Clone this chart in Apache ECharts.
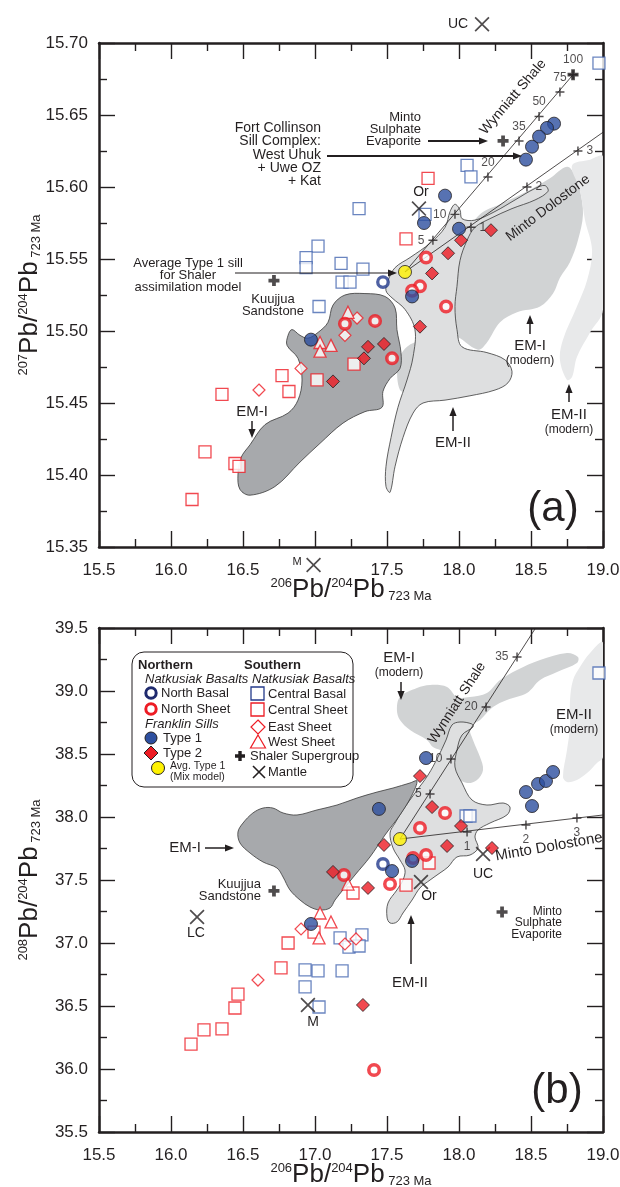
<!DOCTYPE html>
<html>
<head>
<meta charset="utf-8">
<script src="https://cdn.jsdelivr.net/npm/echarts@6/dist/echarts.min.js"></script>
<style>
html,body{margin:0;padding:0;background:#fff}
#chart{width:620px;height:1187px}
</style>
</head>
<body>
<div id="chart"></div>
<script>
// ---- panel (a): 207Pb/204Pb vs 206Pb/204Pb ----
var a_northBasal = [[17.472, 15.534]];
var a_northSheet = [[17.771, 15.551], [17.729, 15.531], [17.674, 15.528], [17.910, 15.517], [17.417, 15.507], [17.208, 15.505], [17.535, 15.481]];
var a_type1 = [[18.660, 15.644], [18.611, 15.641], [18.556, 15.635], [18.507, 15.628], [18.465, 15.619], [17.903, 15.594], [17.757, 15.575], [18.000, 15.571], [17.674, 15.524], [16.972, 15.494]];
var a_type2 = [[18.222, 15.570], [18.014, 15.563], [17.924, 15.554], [17.813, 15.540], [17.729, 15.503], [17.479, 15.491], [17.368, 15.489], [17.340, 15.481], [17.125, 15.465]];
var a_avgType1 = [[17.625, 15.541]];
var a_centralBasal = [[18.972, 15.686], [18.056, 15.615], [18.083, 15.607], [17.764, 15.581], [17.306, 15.585], [17.021, 15.559], [16.938, 15.551], [16.938, 15.544], [17.181, 15.547], [17.333, 15.543], [17.188, 15.534], [17.243, 15.534], [17.028, 15.517]];
var a_centralSheet = [[17.785, 15.606], [17.632, 15.564], [17.271, 15.477], [17.014, 15.466], [16.771, 15.469], [16.819, 15.458], [16.354, 15.456], [16.236, 15.416], [16.444, 15.408], [16.472, 15.406], [16.146, 15.383]];
var a_eastSheet = [[17.292, 15.509], [17.208, 15.497], [16.903, 15.474], [16.611, 15.459]];
var a_westSheet = [[17.229, 15.513], [17.035, 15.492], [17.111, 15.490], [17.035, 15.486]];
var a_shaler = [[16.715, 15.535], [18.306, 15.632], [18.792, 15.678]];
var a_mantle = [[18.160, 15.713], [16.990, 15.3375], [17.722, 15.585]];

var a_wynLine = [[17.625, 15.541], [18.792, 15.678]];
var a_mintoLine = [[17.625, 15.541], [19.0, 15.638]];
var a_wynTicks = [[17.819, 15.563], [17.972, 15.581], [18.201, 15.607], [18.417, 15.632], [18.556, 15.649], [18.701, 15.666], [18.792, 15.678]];
var a_wynTickText = ['5', '10', '20', '35', '50', '75', '100'];
var a_mintoTicks = [[18.083, 15.572], [18.472, 15.600], [18.826, 15.625]];
var a_mintoTickText = ['1', '2', '3'];

// fields (a)
var a_fieldEM1 = [[16.840,15.501],[16.896,15.497],[16.951,15.495],[17.021,15.499],[17.090,15.506],[17.125,15.518],[17.208,15.525],[17.347,15.526],[17.486,15.524],[17.556,15.516],[17.569,15.501],[17.597,15.485],[17.590,15.474],[17.521,15.467],[17.472,15.458],[17.465,15.447],[17.347,15.444],[17.194,15.436],[17.035,15.422],[16.896,15.409],[16.722,15.392],[16.549,15.386],[16.479,15.390],[16.465,15.400],[16.486,15.412],[16.549,15.421],[16.653,15.435],[16.813,15.443],[16.882,15.452],[16.910,15.466],[16.882,15.481],[16.806,15.490],[16.813,15.497]];
var a_fieldEM2 = [[17.507,15.535],[17.556,15.544],[17.660,15.551],[17.799,15.561],[17.903,15.572],[17.938,15.583],[17.972,15.588],[18.007,15.584],[18.021,15.578],[18.111,15.577],[18.250,15.583],[18.389,15.591],[18.528,15.599],[18.597,15.601],[18.618,15.597],[18.528,15.591],[18.368,15.585],[18.215,15.578],[18.111,15.572],[18.056,15.563],[18.007,15.549],[17.986,15.531],[17.972,15.517],[17.986,15.501],[18.021,15.489],[18.194,15.485],[18.319,15.480],[18.368,15.472],[18.340,15.464],[18.250,15.459],[18.076,15.455],[17.903,15.452],[17.750,15.450],[17.681,15.443],[17.611,15.426],[17.556,15.406],[17.521,15.388],[17.493,15.392],[17.493,15.406],[17.528,15.426],[17.576,15.447],[17.639,15.466],[17.681,15.482],[17.694,15.501],[17.625,15.515],[17.535,15.523],[17.493,15.528]];
var a_fieldEM1mod = [[17.590,15.459],[17.576,15.478],[17.639,15.489],[17.750,15.494],[17.958,15.497],[18.132,15.487],[18.194,15.492],[18.285,15.506],[18.403,15.513],[18.563,15.517],[18.653,15.526],[18.701,15.537],[18.771,15.548],[18.826,15.563],[18.861,15.581],[18.840,15.598],[18.806,15.608],[18.750,15.614],[18.632,15.606],[18.493,15.598],[18.285,15.588],[18.146,15.581],[18.021,15.563],[17.903,15.535],[17.799,15.508],[17.694,15.480],[17.660,15.459]];
var a_fieldEM2mod = [[18.785,15.615],[18.910,15.619],[19.0,15.621],[19.0,15.515],[18.910,15.499],[18.819,15.482],[18.785,15.468],[18.750,15.466],[18.701,15.480],[18.722,15.494],[18.819,15.517],[18.889,15.535],[18.924,15.556],[18.875,15.577],[18.840,15.598]];

// ---- panel (b): 208Pb/204Pb vs 206Pb/204Pb ----
var b_northBasal = [[17.472, 37.627]];
var b_northSheet = [[17.903, 38.032], [17.729, 37.913], [17.681, 37.675], [17.771, 37.698], [17.521, 37.468], [17.201, 37.540], [17.410, 35.992]];
var b_type1 = [[17.771, 38.468], [17.444, 38.064], [17.674, 37.651], [17.535, 37.571], [18.465, 38.198], [18.507, 38.087], [18.549, 38.262], [18.604, 38.286], [18.653, 38.357], [16.972, 37.151]];
var b_type2 = [[17.729, 38.325], [17.813, 38.079], [18.014, 37.929], [17.917, 37.770], [17.479, 37.778], [17.125, 37.564], [17.368, 37.437], [18.229, 37.754], [17.333, 36.508]];
var b_avgType1 = [[17.590, 37.825]];
var b_centralBasal = [[18.972, 39.143], [18.049, 38.008], [18.076, 38.008], [17.174, 37.040], [17.326, 37.064], [17.236, 36.968], [17.306, 36.976], [16.931, 36.786], [17.021, 36.778], [17.188, 36.778], [16.931, 36.651], [17.028, 36.492]];
var b_centralSheet = [[17.792, 37.635], [17.632, 37.460], [17.264, 37.397], [16.993, 37.087], [16.813, 37.000], [16.764, 36.802], [16.465, 36.595], [16.444, 36.484], [16.354, 36.318], [16.229, 36.310], [16.139, 36.198]];
var b_eastSheet = [[16.903, 37.111], [17.208, 36.992], [17.285, 37.032], [16.604, 36.706]];
var b_westSheet = [[17.229, 37.468], [17.035, 37.238], [17.111, 37.167], [17.028, 37.040]];
var b_shaler = [[16.715, 37.413], [18.299, 37.246]];
var b_mantle = [[16.181, 37.206], [16.951, 36.508], [17.736, 37.484], [18.167, 37.706]];

var b_wynLine = [[17.590, 37.825], [18.532, 39.5]];
var b_mintoLine = [[17.590, 37.825], [19.0, 38.016]];
var b_wynTicks = [[17.799, 38.183], [17.944, 38.460], [18.188, 38.873], [18.403, 39.270]];
var b_wynTickText = ['5', '10', '20', '35'];
var b_mintoTicks = [[18.056, 37.881], [18.465, 37.937], [18.819, 37.992]];
var b_mintoTickText = ['1', '2', '3'];

var b_fieldEM1 = [[16.465,37.881],[16.500,37.952],[16.569,38.032],[16.639,38.071],[16.708,38.071],[16.778,38.032],[16.875,38.016],[17.014,38.056],[17.153,38.095],[17.292,38.151],[17.431,38.198],[17.542,38.230],[17.660,38.270],[17.708,38.286],[17.674,38.175],[17.590,38.016],[17.486,37.857],[17.382,37.683],[17.278,37.540],[17.194,37.421],[17.139,37.341],[17.104,37.278],[17.035,37.262],[16.965,37.286],[16.896,37.341],[16.826,37.421],[16.778,37.524],[16.736,37.595],[16.639,37.643],[16.549,37.714],[16.479,37.794]];
var b_fieldEM2 = [[17.521,37.873],[17.556,37.952],[17.611,38.056],[17.694,38.190],[17.785,38.333],[17.854,38.476],[17.910,38.611],[17.951,38.730],[18.007,38.754],[18.090,38.738],[18.097,38.714],[18.021,38.651],[17.986,38.532],[17.972,38.397],[18.021,38.270],[18.090,38.135],[18.194,38.095],[18.306,38.111],[18.354,38.079],[18.333,38.016],[18.215,37.952],[18.132,37.897],[18.111,37.841],[18.132,37.754],[18.076,37.698],[17.986,37.683],[17.924,37.603],[17.868,37.556],[17.799,37.500],[17.729,37.437],[17.674,37.341],[17.611,37.238],[17.569,37.167],[17.521,37.159],[17.500,37.206],[17.507,37.317],[17.569,37.421],[17.611,37.500],[17.625,37.579],[17.590,37.659],[17.542,37.754]];
var b_fieldEM1mod = [[17.569,38.849],[17.590,38.952],[17.708,39.024],[17.799,39.048],[17.917,39.032],[17.986,38.952],[18.076,38.952],[18.194,38.984],[18.285,39.087],[18.403,39.167],[18.563,39.246],[18.750,39.302],[18.826,39.270],[18.819,39.222],[18.681,39.151],[18.563,39.087],[18.472,38.984],[18.333,38.929],[18.236,38.873],[18.146,38.770],[18.076,38.714],[18.097,38.611],[18.146,38.476],[18.167,38.373],[18.125,38.294],[18.056,38.270],[17.986,38.317],[17.958,38.429],[17.917,38.508],[17.819,38.556],[17.778,38.611],[17.660,38.690],[17.590,38.770]];
var b_fieldEM2mod = [[19.0,39.381],[18.910,39.302],[18.840,39.190],[18.792,39.087],[18.771,38.929],[18.771,38.714],[18.750,38.532],[18.722,38.317],[18.750,38.278],[18.819,38.294],[18.889,38.349],[18.958,38.429],[19.0,38.476]];

// ---- styling ----
var INK = '#231f20';
var FONT = '"Liberation Sans", Arial, sans-serif';
var RED = '#ed1c24';
var NAVY = '#233a8c';
var BLUE1 = '#2d4f9f';
var SQBLUE = '#4566b0';
var PLUS = 'path://M3.3,0H6.7V3.3H10V6.7H6.7V10H3.3V6.7H0V3.3H3.3Z';
var THINPLUS = 'path://M4.2,0H5.8V4.2H10V5.8H5.8V10H4.2V5.8H0V4.2H4.2Z';
var XMARK = 'path://M0.8,0L5,4.2L9.2,0L10,0.8L5.8,5L10,9.2L9.2,10L5,5.8L0.8,10L0,9.2L4.2,5L0,0.8Z';

var a_wynLabelPos = ['left', 'left', 'top', 'top', 'top', 'top', 'top'];
var a_mintoLabelPos = ['right', 'right', 'right'];
var b_wynLabelPos = ['left', 'left', 'left', 'left'];
var b_mintoLabelPos = ['bottom', 'bottom', 'bottom'];

var axisName = function(top) {
	return '{s|' + top + '}{p|Pb/}{s|204}{p|Pb}{t| 723 Ma}';
};
var nameStyle = {
	color: INK, fontFamily: FONT,
	rich: {
		s: {fontSize: 13, verticalAlign: 'top', color: INK, fontFamily: FONT},
		p: {fontSize: 26, color: INK, fontFamily: FONT},
		t: {fontSize: 13, verticalAlign: 'bottom', color: INK, fontFamily: FONT}
	}
};

function makeX(gi, top, hide) {
	return {
		type: 'value', gridIndex: gi, position: top ? 'top' : 'bottom',
		min: 15.5, max: 19, interval: 0.5,
		axisLine: {show: true, onZero: false, lineStyle: {color: INK, width: 2.5}},
		axisTick: {show: true, inside: true, length: 16, lineStyle: {color: INK, width: 1.4}},
		minorTick: {show: true, splitNumber: 2, length: 8, lineStyle: {color: INK, width: 1.4}},
		splitLine: {show: false},
		axisLabel: {
			show: !top, margin: 15, fontSize: 17, color: INK, fontFamily: FONT,
			formatter: function(v) {
				if (hide && Math.abs(v - hide) < 1e-6) return '';
				return v.toFixed(1);
			}
		},
		name: top ? '' : axisName('206'), nameLocation: 'middle', nameGap: 30,
		nameMoveOverlap: false,
		nameTextStyle: nameStyle
	};
}
function makeY(gi, right, min, max, step, dec, top) {
	return {
		type: 'value', gridIndex: gi, position: right ? 'right' : 'left',
		min: min, max: max, interval: step,
		axisLine: {show: true, onZero: false, lineStyle: {color: INK, width: 2.5}},
		axisTick: {show: true, inside: true, length: 16, lineStyle: {color: INK, width: 1.4}},
		minorTick: {show: true, splitNumber: 2, length: 8, lineStyle: {color: INK, width: 1.4}},
		splitLine: {show: false},
		axisLabel: {
			show: !right, margin: 11, fontSize: 17, color: INK, fontFamily: FONT,
			formatter: function(v) { return v.toFixed(dec); }
		},
		name: right ? '' : axisName(top), nameLocation: 'middle', nameGap: 56, nameRotate: 90,
		nameMoveOverlap: false,
		nameTextStyle: nameStyle
	};
}

function field(data, gi, fill, stroke) {
	return {
		type: 'custom', xAxisIndex: gi * 2, yAxisIndex: gi * 2, silent: true, z: 1, clip: true,
		data: data, encode: {x: 0, y: 1},
		renderItem: function(params, api) {
			if (params.dataIndex !== 0) return null;
			var pts = data.map(function(p) { return api.coord(p); });
			return {
				type: 'polygon',
				shape: {points: pts, smooth: 0.35},
				style: {fill: fill, stroke: stroke || null, lineWidth: 0.8}
			};
		}
	};
}
function scat(data, gi, symbol, size, style, clip) {
	return {
		type: 'scatter', xAxisIndex: gi * 2, yAxisIndex: gi * 2, data: data,
		symbol: symbol, symbolSize: size, itemStyle: style, z: 3,
		clip: clip !== false, silent: true, animation: false
	};
}
function mixLine(data, gi) {
	return {
		type: 'line', xAxisIndex: gi * 2, yAxisIndex: gi * 2, data: data,
		symbol: 'none', lineStyle: {color: INK, width: 0.8}, z: 2, silent: true, animation: false
	};
}
function mixTicks(data, text, pos, gi) {
	var items = data.map(function(p, i) {
		return {value: p, label: {show: true, formatter: text[i], position: pos[i], distance: 4}};
	});
	return {
		type: 'scatter', xAxisIndex: gi * 2, yAxisIndex: gi * 2, data: items,
		symbol: THINPLUS, symbolSize: 9, itemStyle: {color: INK}, z: 2, silent: true,
		label: {fontSize: 12, color: INK, fontFamily: FONT}, animation: false
	};
}

function seriesFor(gi, d) {
	return [
		field(d.em1mod, gi, '#d1d3d4'),
		field(d.em2mod, gi, '#e8e9ea'),
		field(d.em2, gi, '#dedfe0', '#3a3a3a'),
		field(d.em1, gi, '#a7a9ac', '#3a3a3a'),
		mixLine(d.wynLine, gi),
		mixLine(d.mintoLine, gi),
		mixTicks(d.wynTicks, d.wynText, d.wynPos, gi),
		mixTicks(d.mintoTicks, d.mintoText, d.mintoPos, gi),
		scat(d.centralBasal, gi, 'rect', 12, {color: '#fff', borderColor: SQBLUE, borderWidth: 1.3}),
		scat(d.centralSheet, gi, 'rect', 12, {color: '#fff', borderColor: RED, borderWidth: 1.3}),
		scat(d.eastSheet, gi, 'diamond', 12, {color: '#fff', borderColor: RED, borderWidth: 1.2}),
		scat(d.westSheet, gi, 'triangle', 12, {color: '#fff', borderColor: RED, borderWidth: 1.3}),
		scat(d.mantle, gi, XMARK, 15, {color: INK}, false),
		scat(d.shaler, gi, PLUS, 11, {color: INK}),
		scat(d.northBasal, gi, 'circle', 10.5, {color: '#fff', borderColor: NAVY, borderWidth: 3.3}),
		scat(d.northSheet, gi, 'circle', 10.5, {color: '#fff', borderColor: RED, borderWidth: 3.5}),
		scat(d.type2, gi, 'diamond', 13, {color: RED, borderColor: INK, borderWidth: 1}),
		scat(d.type1, gi, 'circle', 13, {color: BLUE1, borderColor: INK, borderWidth: 1}),
		scat(d.avgType1, gi, 'circle', 13, {color: '#fff200', borderColor: INK, borderWidth: 1})
	];
}

// ---- annotations ----
var graphics = [];
function T(x, y, s, size, o) {
	o = o || {};
	graphics.push({
		type: 'text', x: x, y: y, z: 50, rotation: (o.rot || 0) * Math.PI / 180,
		style: {
			text: s, fontSize: size, fontFamily: FONT, fill: INK,
			align: o.align || 'center', verticalAlign: 'middle',
			fontStyle: o.italic ? 'italic' : 'normal', fontWeight: o.bold ? 'bold' : 'normal'
		}
	});
}
function A(x1, y1, x2, y2, w) {
	var a = Math.atan2(y2 - y1, x2 - x1), L = 9, W = 3.6;
	var bx = x2 - L * Math.cos(a), by = y2 - L * Math.sin(a);
	graphics.push({type: 'line', z: 50, shape: {x1: x1, y1: y1, x2: bx, y2: by}, style: {stroke: INK, lineWidth: w || 1.5}});
	graphics.push({type: 'polygon', z: 50, shape: {points: [[x2, y2], [bx + W * Math.sin(a), by - W * Math.cos(a)], [bx - W * Math.sin(a), by + W * Math.cos(a)]]}, style: {fill: INK}});
}

// (a)
T(458, 24, 'UC', 14);
T(297, 562, 'M', 11);
T(421, 192, 'Or', 14);
[['Fort Collinson', 128], ['Sill Complex:', 141], ['West Uhuk', 155], ['+ Uwe OZ', 168], ['+ Kat', 181]].forEach(function(l) {
	T(321, l[1], l[0], 14, {align: 'right'});
});
A(327, 156, 522, 156, 1.8);
[['Minto', 117], ['Sulphate', 129], ['Evaporite', 141]].forEach(function(l) { T(421, l[1], l[0], 13, {align: 'right'}); });
A(428, 141, 488, 141, 1.8);
T(513, 97, 'Wynniatt Shale', 14, {rot: 49.5});
T(548, 208, 'Minto Dolostone', 14, {rot: 37});
T(188, 263, 'Average Type 1 sill', 13);
T(188, 275, 'for Shaler', 13);
T(188, 287, 'assimilation model', 13);
A(235, 273, 397, 273, 1.2);
T(273, 299, 'Kuujjua', 13);
T(273, 311, 'Sandstone', 13);
T(252, 412, 'EM-I', 15);
A(252, 421, 252, 438, 1.5);
T(453, 443, 'EM-II', 15);
A(453, 431, 453, 407, 1.5);
T(530, 346, 'EM-I', 15);
T(530, 361, '(modern)', 12);
A(530, 334, 530, 315, 1.5);
T(569, 415, 'EM-II', 15);
T(569, 430, '(modern)', 12);
A(569, 402, 569, 384, 1.5);
T(553, 509, '(a)', 42);

// (b)
T(399, 658, 'EM-I', 15);
T(399, 673, '(modern)', 12);
A(401, 682, 401, 700, 1.5);
T(457, 703, 'Wynniatt Shale', 14, {rot: 57});
T(574, 715, 'EM-II', 15);
T(574, 730, '(modern)', 12);
T(549, 847, 'Minto Dolostone', 15, {rot: 10});
T(483, 874, 'UC', 14);
T(429, 896, 'Or', 14);
T(313, 1022, 'M', 14);
T(196, 933, 'LC', 14);
T(261, 884, 'Kuujjua', 13, {align: 'right'});
T(261, 896, 'Sandstone', 13, {align: 'right'});
T(185, 848, 'EM-I', 15);
A(205, 848, 234, 848, 1.5);
T(410, 983, 'EM-II', 15);
A(411, 964, 411, 915, 1.5);
T(562, 912, 'Minto', 12, {align: 'right'});
T(562, 923, 'Sulphate', 12, {align: 'right'});
T(562, 935, 'Evaporite', 12, {align: 'right'});
T(557, 1091, '(b)', 42);

// legend box (b)
graphics.push({type: 'rect', z: 40, shape: {x: 132, y: 652, width: 221, height: 135, r: 12}, style: {fill: '#fff', stroke: INK, lineWidth: 1}});
T(138, 665, 'Northern', 13, {align: 'left', bold: true});
T(145, 679, 'Natkusiak Basalts', 13, {align: 'left', italic: true});
graphics.push({type: 'circle', z: 50, shape: {cx: 151, cy: 693, r: 5.2}, style: {fill: '#fff', stroke: '#1f2a6e', lineWidth: 3}});
T(161, 693, 'North Basal', 13, {align: 'left'});
graphics.push({type: 'circle', z: 50, shape: {cx: 151, cy: 709, r: 5.2}, style: {fill: '#fff', stroke: RED, lineWidth: 3}});
T(161, 709, 'North Sheet', 13, {align: 'left'});
T(145, 724, 'Franklin Sills', 13, {align: 'left', italic: true});
graphics.push({type: 'circle', z: 50, shape: {cx: 151, cy: 738, r: 6}, style: {fill: BLUE1, stroke: INK, lineWidth: 1}});
T(163, 738, 'Type 1', 13, {align: 'left'});
graphics.push({type: 'polygon', z: 50, shape: {points: [[151, 746], [158, 753], [151, 760], [144, 753]]}, style: {fill: RED, stroke: INK, lineWidth: 1}});
T(163, 753, 'Type 2', 13, {align: 'left'});
graphics.push({type: 'circle', z: 50, shape: {cx: 158, cy: 768, r: 6.5}, style: {fill: '#fff200', stroke: INK, lineWidth: 1}});
T(170, 766, 'Avg. Type 1', 10.5, {align: 'left'});
T(170, 777, '(Mix model)', 10.5, {align: 'left'});
T(244, 665, 'Southern', 13, {align: 'left', bold: true});
T(252, 679, 'Natkusiak Basalts', 13, {align: 'left', italic: true});
graphics.push({type: 'rect', z: 50, shape: {x: 251, y: 687, width: 13, height: 13}, style: {fill: '#fff', stroke: '#243a8a', lineWidth: 1.3}});
T(268, 694, 'Central Basal', 13, {align: 'left'});
graphics.push({type: 'rect', z: 50, shape: {x: 251, y: 703, width: 13, height: 13}, style: {fill: '#fff', stroke: RED, lineWidth: 1.3}});
T(268, 710, 'Central Sheet', 13, {align: 'left'});
graphics.push({type: 'polygon', z: 50, shape: {points: [[258, 720], [265, 727], [258, 734], [251, 727]]}, style: {fill: '#fff', stroke: RED, lineWidth: 1.2}});
T(268, 727, 'East Sheet', 13, {align: 'left'});
graphics.push({type: 'polygon', z: 50, shape: {points: [[258, 735], [265.5, 748], [250.5, 748]]}, style: {fill: '#fff', stroke: RED, lineWidth: 1.2}});
T(268, 742, 'West Sheet', 13, {align: 'left'});
graphics.push({type: 'polygon', z: 50, shape: {points: [[238.3, 751], [241.7, 751], [241.7, 754.3], [245, 754.3], [245, 757.7], [241.7, 757.7], [241.7, 761], [238.3, 761], [238.3, 757.7], [235, 757.7], [235, 754.3], [238.3, 754.3]]}, style: {fill: INK}});
T(250, 756, 'Shaler Supergroup', 13, {align: 'left'});
graphics.push({type: 'line', z: 50, shape: {x1: 253, y1: 766, x2: 265, y2: 778}, style: {stroke: INK, lineWidth: 1.6}});
graphics.push({type: 'line', z: 50, shape: {x1: 265, y1: 766, x2: 253, y2: 778}, style: {stroke: INK, lineWidth: 1.6}});
T(268, 772, 'Mantle', 13, {align: 'left'});

var dataA = {
	em1: a_fieldEM1, em2: a_fieldEM2, em1mod: a_fieldEM1mod, em2mod: a_fieldEM2mod,
	wynLine: a_wynLine, mintoLine: a_mintoLine,
	wynTicks: a_wynTicks, wynText: a_wynTickText, wynPos: a_wynLabelPos,
	mintoTicks: a_mintoTicks, mintoText: a_mintoTickText, mintoPos: a_mintoLabelPos,
	centralBasal: a_centralBasal, centralSheet: a_centralSheet, eastSheet: a_eastSheet, westSheet: a_westSheet,
	mantle: a_mantle, shaler: a_shaler, northBasal: a_northBasal, northSheet: a_northSheet,
	type1: a_type1, type2: a_type2, avgType1: a_avgType1
};
var dataB = {
	em1: b_fieldEM1, em2: b_fieldEM2, em1mod: b_fieldEM1mod, em2mod: b_fieldEM2mod,
	wynLine: b_wynLine, mintoLine: b_mintoLine,
	wynTicks: b_wynTicks, wynText: b_wynTickText, wynPos: b_wynLabelPos,
	mintoTicks: b_mintoTicks, mintoText: b_mintoTickText, mintoPos: b_mintoLabelPos,
	centralBasal: b_centralBasal, centralSheet: b_centralSheet, eastSheet: b_eastSheet, westSheet: b_westSheet,
	mantle: b_mantle, shaler: b_shaler, northBasal: b_northBasal, northSheet: b_northSheet,
	type1: b_type1, type2: b_type2, avgType1: b_avgType1
};

var chart = echarts.init(document.getElementById('chart'), null, {renderer: 'canvas'});
chart.setOption({
	animation: false,
	backgroundColor: '#fff',
	textStyle: {fontFamily: FONT},
	grid: [
		{left: 99, top: 43, width: 504, height: 504, outerBoundsMode: 'none'},
		{left: 99, top: 628, width: 504, height: 504, outerBoundsMode: 'none'}
	],
	xAxis: [makeX(0, false, 17), makeX(0, true), makeX(1, false), makeX(1, true)],
	yAxis: [
		makeY(0, false, 15.35, 15.70, 0.05, 2, '207'), makeY(0, true, 15.35, 15.70, 0.05, 2),
		makeY(1, false, 35.5, 39.5, 0.5, 1, '208'), makeY(1, true, 35.5, 39.5, 0.5, 1)
	],
	series: seriesFor(0, dataA).concat(seriesFor(1, dataB)),
	graphic: graphics
});
</script>
</body>
</html>
